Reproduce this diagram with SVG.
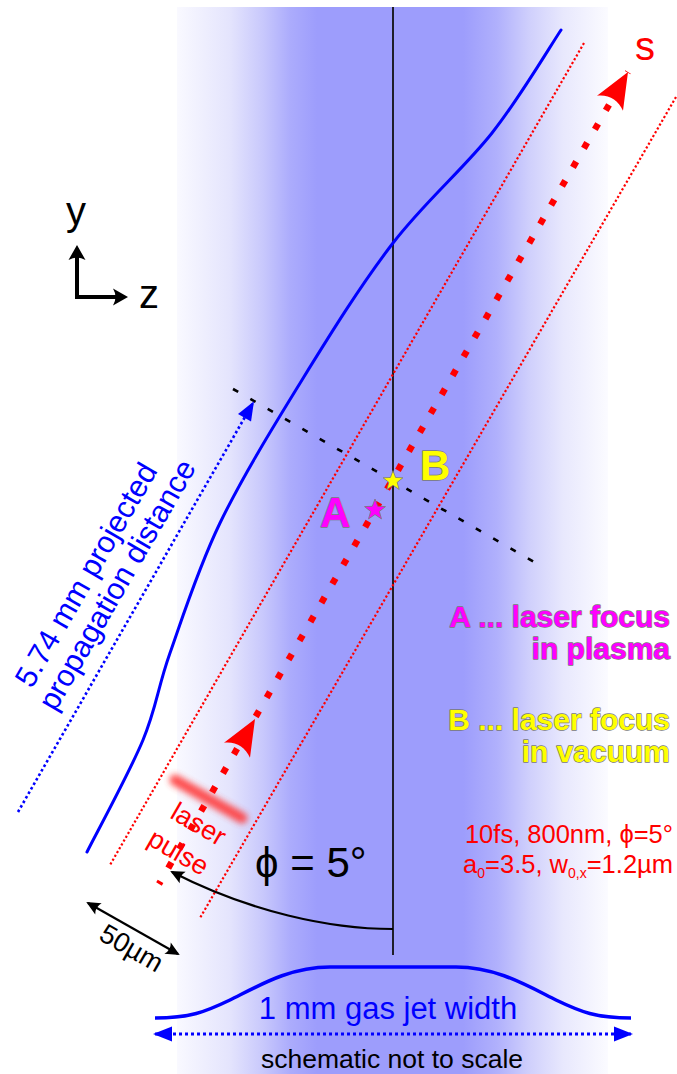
<svg xmlns="http://www.w3.org/2000/svg" width="677" height="1074" viewBox="0 0 677 1074">
<style>
text{font-family:"Liberation Sans",Arial,sans-serif}
.bold{font-weight:bold}
.outl{stroke:#777;stroke-width:1.3;paint-order:stroke;stroke-linejoin:round}
.thinred{fill:none;stroke:#ff0000;stroke-width:2.2;stroke-dasharray:2.2 2.2}
.blk{fill:none;stroke:#000;stroke-width:2.2}
</style>
<defs>
<linearGradient id="jet" gradientUnits="userSpaceOnUse" x1="177" y1="0" x2="608" y2="0">
<stop offset="0" stop-color="#f9f9ff"/>
<stop offset="0.123" stop-color="#e4e4fd"/>
<stop offset="0.2" stop-color="#c8c8fc"/>
<stop offset="0.262" stop-color="#acacfc"/>
<stop offset="0.325" stop-color="#9d9dfc"/>
<stop offset="0.664" stop-color="#9d9dfc"/>
<stop offset="0.742" stop-color="#b0b0fc"/>
<stop offset="0.819" stop-color="#d0d0fc"/>
<stop offset="0.896" stop-color="#e8e8fd"/>
<stop offset="1" stop-color="#fbfbff"/>
</linearGradient>
<filter id="blur" x="-50%" y="-50%" width="200%" height="200%"><feGaussianBlur stdDeviation="3"/></filter>
<path id="bigArrow" d="M0,0 L-36,-15 C-29,-6 -29,6 -36,15 Z"/>
<path id="star" d="M0,-11 L2.7,-3.72 L10.46,-3.4 L4.37,1.42 L6.47,8.9 L0,4.6 L-6.47,8.9 L-4.37,1.42 L-10.46,-3.4 L-2.7,-3.72 Z"/>
<marker id="mkAx" viewBox="-20 -10 22 20" refX="-6" refY="0" markerWidth="22" markerHeight="20" markerUnits="userSpaceOnUse" orient="auto-start-reverse">
<path d="M0,0 L-15,-8.5 Q-10,0 -15,8.5 Z" fill="#000"/>
</marker>
<marker id="mkK" viewBox="-20 -10 22 20" refX="-2" refY="0" markerWidth="22" markerHeight="20" markerUnits="userSpaceOnUse" orient="auto-start-reverse">
<path d="M0,0 L-14,-6.5 Q-10,0 -14,6.5 Z" fill="#000"/>
</marker>
<marker id="mkBlue" viewBox="-22 -10 24 20" refX="-2" refY="0" markerWidth="24" markerHeight="20" markerUnits="userSpaceOnUse" orient="auto-start-reverse">
<path d="M0,0 L-19,-7.5 L-19,7.5 Z" fill="#0000ff"/>
</marker>
</defs>

<g id="gas-jet">
<rect x="177" y="7" width="431" height="1067" fill="url(#jet)"/>
<line x1="393" y1="7" x2="393" y2="955" stroke="#111" stroke-width="1.8"/>
</g>

<g id="plasma-boundary">
<path d="M561,30 C549.5,47.2 520,97.5 492,133 C464,168.5 424.7,201.8 393,243 C361.3,284.2 330.8,333.3 302,380 C273.2,426.7 242,477.5 220,523 C198,568.5 182.8,616.8 170,653 C157.2,689.2 156.8,706.8 143,740 C129.2,773.2 96.3,833.3 87,852" fill="none" stroke="#0000ff" stroke-width="3" stroke-linecap="round"/>
</g>

<g id="gas-profile">
<path d="M155,1018 C190,1018 205,1012 230,1000 C260,985 290,967 330,967 L456,967 C496,967 526,985 556,1000 C581,1012 596,1018 631,1018" fill="none" stroke="#0000ff" stroke-width="3.5"/>
<text x="388" y="1019" font-size="31" fill="#0000ff" text-anchor="middle">1 mm gas jet width</text>
<text x="392" y="1068" font-size="26.5" fill="#000" text-anchor="middle">schematic not to scale</text>
</g>

<g id="connectors">
<line class="thinred" x1="584" y1="43" x2="110" y2="865"/>
<line class="thinred" x1="676" y1="97" x2="200" y2="918"/>
<line x1="233" y1="389" x2="543" y2="567" stroke="#000" stroke-width="2.6" stroke-dasharray="6 14"/>
<line x1="18" y1="812" x2="253" y2="403" stroke="#0000ff" stroke-width="2.6" stroke-dasharray="2.6 2.6" marker-end="url(#mkBlue)"/>
<line x1="155" y1="1034" x2="631" y2="1034" stroke="#0000ff" stroke-width="3" stroke-dasharray="3 3" marker-start="url(#mkBlue)" marker-end="url(#mkBlue)"/>
<line x1="628" y1="72" x2="159" y2="884" stroke="#ff0000" stroke-width="6.5" stroke-dasharray="6.5 15.37" stroke-dashoffset="5.8"/>
<use href="#bigArrow" fill="#ff0000" transform="translate(628,72) rotate(-60)"/>
<use href="#bigArrow" fill="#ff0000" transform="translate(255,719) rotate(-60)"/>
<path class="blk" d="M393,929 C330,929 250,912 172,872" marker-end="url(#mkK)"/>
<line class="blk" x1="88" y1="903" x2="178" y2="954" marker-start="url(#mkK)" marker-end="url(#mkK)"/>
<line x1="77" y1="299" x2="77" y2="251" stroke="#000" stroke-width="4" marker-end="url(#mkAx)"/>
<line x1="75" y1="297" x2="122" y2="297" stroke="#000" stroke-width="4" marker-end="url(#mkAx)"/>
</g>

<g id="laser-pulse">
<line x1="175" y1="780" x2="242" y2="818" stroke="#ff3a3a" stroke-width="11" stroke-linecap="round" filter="url(#blur)" opacity="0.9"/>
<text font-size="27" fill="#ff0000" text-anchor="middle" transform="translate(194,832) rotate(30)">laser</text>
<text font-size="27" fill="#ff0000" text-anchor="middle" transform="translate(174,860) rotate(30)">pulse</text>
</g>

<g id="focus-A">
<use href="#star" fill="#ff00ff" stroke="#777" stroke-width="0.8" transform="translate(375,510)"/>
<text class="bold outl" x="320" y="527" font-size="42" fill="#ff00ff">A</text>
</g>

<g id="focus-B">
<use href="#star" fill="#ffff00" stroke="#777" stroke-width="0.8" transform="translate(393,481) scale(0.95)"/>
<text class="bold outl" x="420" y="480" font-size="42" fill="#ffff00">B</text>
</g>

<g id="axes">
<text x="66" y="225" font-size="40" fill="#000">y</text>
<text x="139" y="308" font-size="40" fill="#000">z</text>
<text x="635" y="60" font-size="40" fill="#ff0000">s</text>
</g>

<g id="distance-label">
<text font-size="30.5" fill="#0000ff" text-anchor="middle" transform="translate(95,580) rotate(-60)">5.74 mm projected</text>
<text font-size="30.5" fill="#0000ff" text-anchor="middle" transform="translate(126,590) rotate(-60)">propagation distance</text>
</g>

<g id="angle-label">
<text x="255" y="877" font-size="42" fill="#000">ϕ = 5°</text>
<text font-size="27" fill="#000" text-anchor="middle" transform="translate(127,956) rotate(30)">50µm</text>
</g>

<g id="legend">
<text class="bold outl" x="670" y="627" font-size="30" fill="#ff00ff" text-anchor="end">A ... laser focus</text>
<text class="bold outl" x="670" y="659" font-size="30" fill="#ff00ff" text-anchor="end">in plasma</text>
<text class="bold outl" x="670" y="730" font-size="30" fill="#ffff00" text-anchor="end">B ... laser focus</text>
<text class="bold outl" x="670" y="762" font-size="30" fill="#ffff00" text-anchor="end">in vacuum</text>
<text x="673" y="843" font-size="25.5" fill="#ff0000" text-anchor="end">10fs, 800nm, ϕ=5°</text>
<text x="673" y="873" font-size="25.5" fill="#ff0000" text-anchor="end">a<tspan font-size="14" dy="5">0</tspan><tspan dy="-5">=3.5, w</tspan><tspan font-size="14" dy="5">0,x</tspan><tspan dy="-5">=1.2µm</tspan></text>
</g>
</svg>
